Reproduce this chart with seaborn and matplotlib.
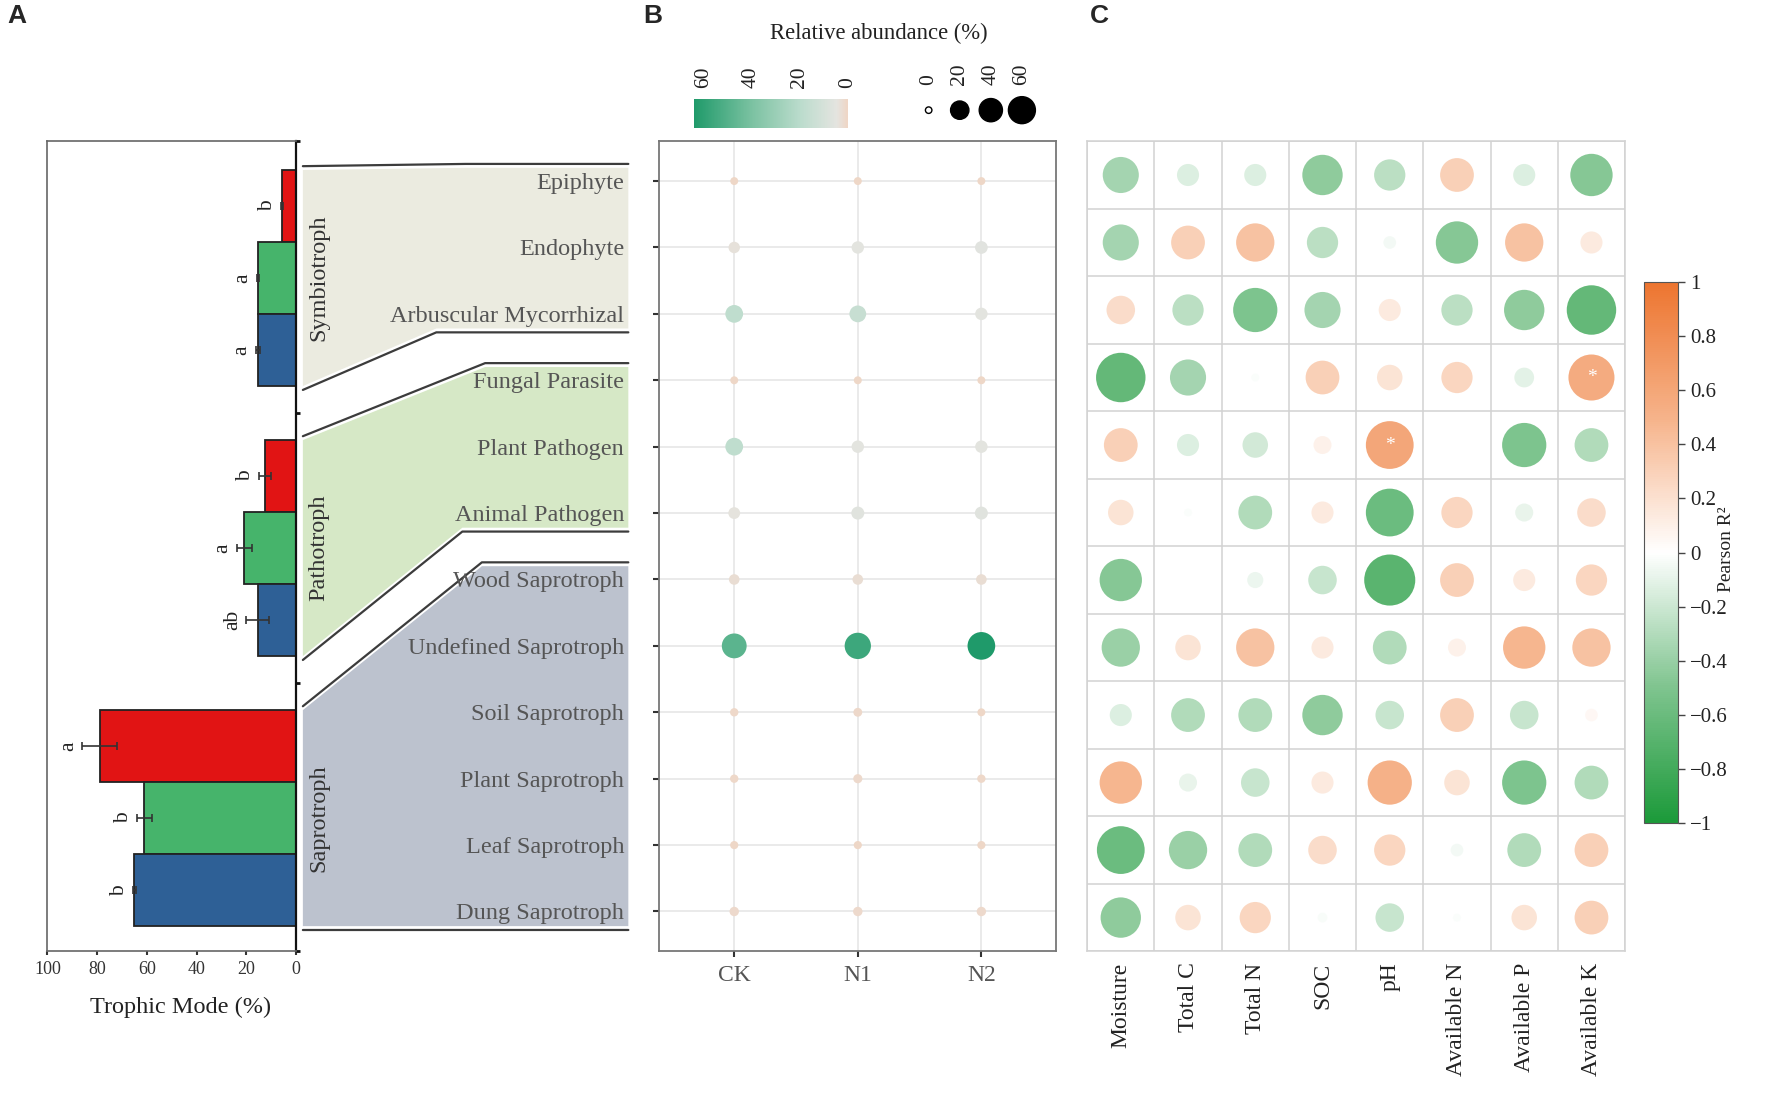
import numpy as np
import pandas as pd
import matplotlib
matplotlib.use("Agg")
import matplotlib.pyplot as plt
import seaborn as sns
from matplotlib.colors import LinearSegmentedColormap, Normalize
from matplotlib.cm import ScalarMappable
from matplotlib.patches import Polygon
from matplotlib.lines import Line2D

# ---------------- data ----------------
GROUPS = ["Symbiotroph", "Pathotroph", "Saprotroph"]
BAR_COLORS = ["#e11414", "#46b46b", "#2e6096"]      # top -> bottom inside each group

symb_mean = [5.5, 15.5, 15.5]
symb_err = [0.4, 0.4, 0.8]
symb_letters = ["b", "a", "a"]
path_mean = [12.5, 20.8, 15.5]
path_err = [2.5, 3.0, 4.5]
path_letters = ["b", "a", "ab"]
sapro_mean = [79.0, 61.0, 65.0]
sapro_err = [7.0, 3.0, 0.5]
sapro_letters = ["a", "b", "b"]

GUILDS = ["Epiphyte", "Endophyte", "Arbuscular Mycorrhizal", "Fungal Parasite",
          "Plant Pathogen", "Animal Pathogen", "Wood Saprotroph", "Undefined Saprotroph",
          "Soil Saprotroph", "Plant Saprotroph", "Leaf Saprotroph", "Dung Saprotroph"]
GROUP_ROWS = [(0, 2), (3, 5), (6, 11)]              # first / last guild of each group
TREATMENTS = ["CK", "N1", "N2"]
abund_ck = [0.3, 3.5, 18, 0.3, 18, 4, 2.4, 48, 0.5, 0.5, 0.4, 1.2]
abund_n1 = [0.3, 5, 15, 0.3, 5, 6, 2.4, 56, 0.8, 1.0, 0.4, 1.2]
abund_n2 = [0.3, 5.5, 5, 0.3, 5, 6, 2.4, 64, 0.3, 0.5, 0.4, 1.2]
size_breaks = [0, 20, 40, 60]

PROPS = ["Moisture", "Total C", "Total N", "SOC", "pH", "Available N", "Available P", "Available K"]
pearson_r = [
    [-0.40, -0.15, -0.15, -0.50, -0.30, 0.35, -0.15, -0.55],
    [-0.40, 0.35, 0.45, -0.30, -0.05, -0.55, 0.45, 0.15],
    [0.25, -0.30, -0.60, -0.40, 0.15, -0.30, -0.50, -0.75],
    [-0.75, -0.40, -0.02, 0.35, 0.20, 0.30, -0.12, 0.65],
    [0.35, -0.15, -0.20, 0.10, 0.70, 0.00, -0.60, -0.35],
    [0.20, -0.02, -0.35, 0.15, -0.70, 0.30, -0.10, 0.25],
    [-0.55, 0.00, -0.08, -0.25, -0.80, 0.35, 0.15, 0.30],
    [-0.45, 0.20, 0.45, 0.15, -0.35, 0.10, 0.55, 0.45],
    [-0.15, -0.35, -0.35, -0.50, -0.25, 0.35, -0.25, 0.05],
    [0.55, -0.10, -0.25, 0.15, 0.60, 0.20, -0.60, -0.35],
    [-0.70, -0.45, -0.35, 0.25, 0.30, -0.05, -0.35, 0.35],
    [-0.50, 0.20, 0.30, -0.03, -0.25, -0.02, 0.20, 0.35],
]
signif = [("Fungal Parasite", "Available K"), ("Plant Pathogen", "pH")]

# ---------------- style ----------------
sns.set_style("white")
plt.rcParams["font.family"] = ["Liberation Serif", "DejaVu Serif"]
plt.rcParams["axes.unicode_minus"] = True

abund_cmap = LinearSegmentedColormap.from_list(
    "abund", [(0, "#efd6c6"), (0.07, "#e4e4e0"), (0.3, "#bcdccd"), (0.62, "#7cc2a2"), (1, "#1f9a6a")])
r_cmap = LinearSegmentedColormap.from_list(
    "pearson", ["#1c9a3a", "#7fc48f", "#ffffff", "#f6b38a", "#ed7530"])

# layout grid of the reference (1568 x 978 units)
W, H = 1568, 978


def box(x0, y0, x1, y1):
    return [x0 / W, 1 - y1 / H, (x1 - x0) / W, (y1 - y0) / H]


def dot_area(v, vmax=60, d0=6.5, d1=27.0):
    # diameter grows with sqrt(value), returned as area in pt^2
    d_px = d0 + (d1 - d0) * np.sqrt(v / vmax)
    return (d_px * 0.72) ** 2


fig = plt.figure(figsize=(17.72, 11.05), dpi=100)

# ---------------- panel A ----------------
axA = fig.add_axes(box(42, 125, 262, 842))
top_pad, gap = 0.4, 0.75
starts = []
for g, (means, errs, letters) in enumerate([(symb_mean, symb_err, symb_letters),
                                            (path_mean, path_err, path_letters),
                                            (sapro_mean, sapro_err, sapro_letters)]):
    start = top_pad + g * (3 + gap)
    starts.append(start)
    pos = start + np.arange(3) + 0.5
    axA.barh(pos, means, height=1, color=BAR_COLORS, edgecolor="#222222", linewidth=1.3, zorder=2)
    axA.errorbar(means, pos, xerr=errs, fmt="none", ecolor="#333333", elinewidth=1.2,
                 capsize=3, capthick=1.2, zorder=3)
    for p, m, e, lab in zip(pos, means, errs, letters):
        axA.text(m + e + 5.5, p, lab, rotation=90, ha="center", va="center", fontsize=15.5, color="#222222")
axA.set_xlim(100, 0)
axA.set_ylim(top_pad + 9 + 2 * gap + 0.35, 0)
axA.set_xticks([100, 80, 60, 40, 20, 0])
axA.yaxis.tick_right()
axA.set_yticks([0, starts[0] + 3 + gap / 2, starts[1] + 3 + gap / 2, axA.get_ylim()[0]])
axA.set_yticklabels([])
axA.tick_params(axis="y", right=True, length=3, width=2, color="#111111")
axA.tick_params(axis="x", bottom=True, length=3, width=1.5, labelsize=13, pad=4, colors="#333333")
axA.set_xlabel("Trophic Mode (%)", fontsize=17.5, color="#222222")
axA.xaxis.set_label_coords(0.536, -0.056)
for side in ["left", "top", "bottom"]:
    axA.spines[side].set_color("#666666")
    axA.spines[side].set_linewidth(1.2)
axA.spines["right"].set_color("#111111")
axA.spines["right"].set_linewidth(1.6)

# ---------------- panel B ----------------
dfB = pd.DataFrame({
    "treatment": [t for t in TREATMENTS for _ in GUILDS],
    "guild": GUILDS * 3,
    "abundance": abund_ck + abund_n1 + abund_n2,
})
axB = fig.add_axes(box(583, 125, 934, 842))
sns.scatterplot(data=dfB, x="treatment", y="guild", hue="abundance", size="abundance",
                palette=abund_cmap, hue_norm=(0, 64),
                sizes={v: dot_area(v) for v in dfB["abundance"].unique()},
                linewidth=0, legend=False, ax=axB, zorder=3)
axB.set_xlim(-0.61, 2.6)
axB.set_ylim(11.6, -0.6)
axB.set_xlabel("")
axB.set_ylabel("")
axB.grid(True, color="#e8e8e8", linewidth=1.3)
axB.set_axisbelow(True)
axB.tick_params(axis="y", left=True, length=4, width=1.5, color="#333333", pad=21,
                labelsize=17.5, labelcolor="#555555")
axB.tick_params(axis="x", bottom=True, length=4, width=1.5, color="#333333", pad=6,
                labelsize=17, labelcolor="#555555")
for side in axB.spines.values():
    side.set_color("#777777")
    side.set_linewidth(1.3)

# colour bar + size legend of panel B
caxB = fig.add_axes(box(614, 88, 750, 113))
cbB = fig.colorbar(ScalarMappable(Normalize(0, 64), abund_cmap), cax=caxB, orientation="horizontal")
cbB.outline.set_visible(False)
caxB.invert_xaxis()
caxB.xaxis.set_ticks_position("top")
cbB.set_ticks(size_breaks)
caxB.tick_params(axis="x", direction="in", color="white", length=3, labelsize=15.5,
                 labelrotation=90, pad=8, labelcolor="#222222")

axS = fig.add_axes(box(808, 80, 918, 115))
sns.scatterplot(x=[str(v) for v in size_breaks], y=[0] * len(size_breaks), size=size_breaks,
                sizes={v: dot_area(v) for v in size_breaks}, color="black", linewidth=0,
                legend=False, ax=axS)
legend_dots = axS.collections[0]
legend_dots.set_facecolors(["white"] + ["black"] * (len(size_breaks) - 1))
legend_dots.set_edgecolors("black")
legend_dots.set_linewidths(1.0)
axS.set_xlim(-0.5, 3.5)
axS.set_ylim(-1, 1)
axS.xaxis.tick_top()
axS.tick_params(axis="x", length=0, labelsize=15.5, labelrotation=90, pad=4, labelcolor="#222222")
axS.set_yticks([])
for side in axS.spines.values():
    side.set_visible(False)
fig.text(778 / W, 1 - 30 / H, "Relative abundance (%)", ha="center", va="center",
         fontsize=16.3, color="#222222")

# ---------------- panel C ----------------
dfC = pd.DataFrame([(gd, pr, pearson_r[i][j], abs(pearson_r[i][j]))
                    for i, gd in enumerate(GUILDS) for j, pr in enumerate(PROPS)],
                   columns=["guild", "prop", "r", "absr"])
axC = fig.add_axes(box(962, 125, 1438, 842))
sns.scatterplot(data=dfC, x="prop", y="guild", hue="r", size="absr", palette=r_cmap,
                hue_norm=(-1, 1), sizes=(0, 1690), size_norm=(0, 1), linewidth=0,
                alpha=0.88, legend=False, ax=axC, zorder=3)
for gd, pr in signif:
    axC.text(PROPS.index(pr), GUILDS.index(gd), "*", color="white", ha="center", va="center",
             fontsize=14, zorder=4)
axC.set_xlim(-0.5, len(PROPS) - 0.5)
axC.set_ylim(len(GUILDS) - 0.5, -0.5)
axC.set_xticks(np.arange(-0.5, len(PROPS)), minor=True)
axC.set_yticks(np.arange(-0.5, len(GUILDS)), minor=True)
axC.grid(True, which="minor", color="#d2d2d2", linewidth=1.1)
axC.grid(False, which="major")
axC.set_axisbelow(True)
axC.set_xlabel("")
axC.set_ylabel("")
axC.tick_params(which="both", length=0)
axC.tick_params(axis="y", labelleft=False)
axC.tick_params(axis="x", labelsize=17, labelcolor="#222222", pad=8)
plt.setp(axC.get_xticklabels(), rotation=90, va="top", ha="center")
for side in axC.spines.values():
    side.set_color("#d2d2d2")
    side.set_linewidth(1.1)

caxC = fig.add_axes(box(1455, 250, 1485, 728))
cbC = fig.colorbar(ScalarMappable(Normalize(-1, 1), r_cmap), cax=caxC)
r_ticks = np.round(np.linspace(-1, 1, 11), 1)
cbC.set_ticks(r_ticks)
cbC.set_ticklabels([f"{t:g}".replace("-", "\u2212") for t in r_ticks])
caxC.tick_params(length=5, width=1, labelsize=15, color="#444444", labelcolor="#222222")
cbC.outline.set_edgecolor("#555555")
fig.text(1528 / W, 1 - 486 / H, "Pearson R\u00b2", rotation=90, ha="center", va="center",
         fontsize=14, color="#222222")

# ---------------- connecting bands A -> B ----------------
to_fig = fig.transFigure.inverted()


def fig_y(ax, y):
    return to_fig.transform(ax.transData.transform((0, y)))[1]


band_colors = ["#ebebe0", "#d6e8c6", "#bcc2ce"]
top_bend = [0.5, 0.56, 0.55]
bot_bend = [0.41, 0.49, 0.5]
xl, xr = 268 / W, 556 / W
off = 0.0035
for g, name in enumerate(GROUPS):
    lt, lb = fig_y(axA, starts[g]), fig_y(axA, starts[g] + 3)
    rt, rb = fig_y(axB, GROUP_ROWS[g][0] - 0.2), fig_y(axB, GROUP_ROWS[g][1] + 0.22)
    xt = xl + top_bend[g] * (xr - xl)
    xb = xl + bot_bend[g] * (xr - xl)
    fig.add_artist(Polygon([(xl, lt), (xt, rt), (xr, rt), (xr, rb), (xb, rb), (xl, lb)],
                           closed=True, transform=fig.transFigure, facecolor=band_colors[g],
                           edgecolor="none", zorder=-2))
    fig.add_artist(Line2D([xl, xt, xr], [lt + off, rt + off, rt + off], transform=fig.transFigure,
                          color="#3c3c3c", linewidth=1.6, zorder=-1))
    fig.add_artist(Line2D([xl, xb, xr], [lb - off, rb - off, rb - off], transform=fig.transFigure,
                          color="#3c3c3c", linewidth=1.6, zorder=-1))
    fig.text(282 / W, (lt + lb) / 2, name, rotation=90, ha="center", va="center",
             fontsize=17.5, color="#333333")

# ---------------- panel letters ----------------
for x, lab in [(15, "A"), (578, "B"), (973, "C")]:
    fig.text(x / W, 1 - 14 / H, lab, ha="center", va="center", fontsize=19,
             fontweight="bold", family="Liberation Sans")

fig.savefig("out.png", dpi=100, facecolor="white")
